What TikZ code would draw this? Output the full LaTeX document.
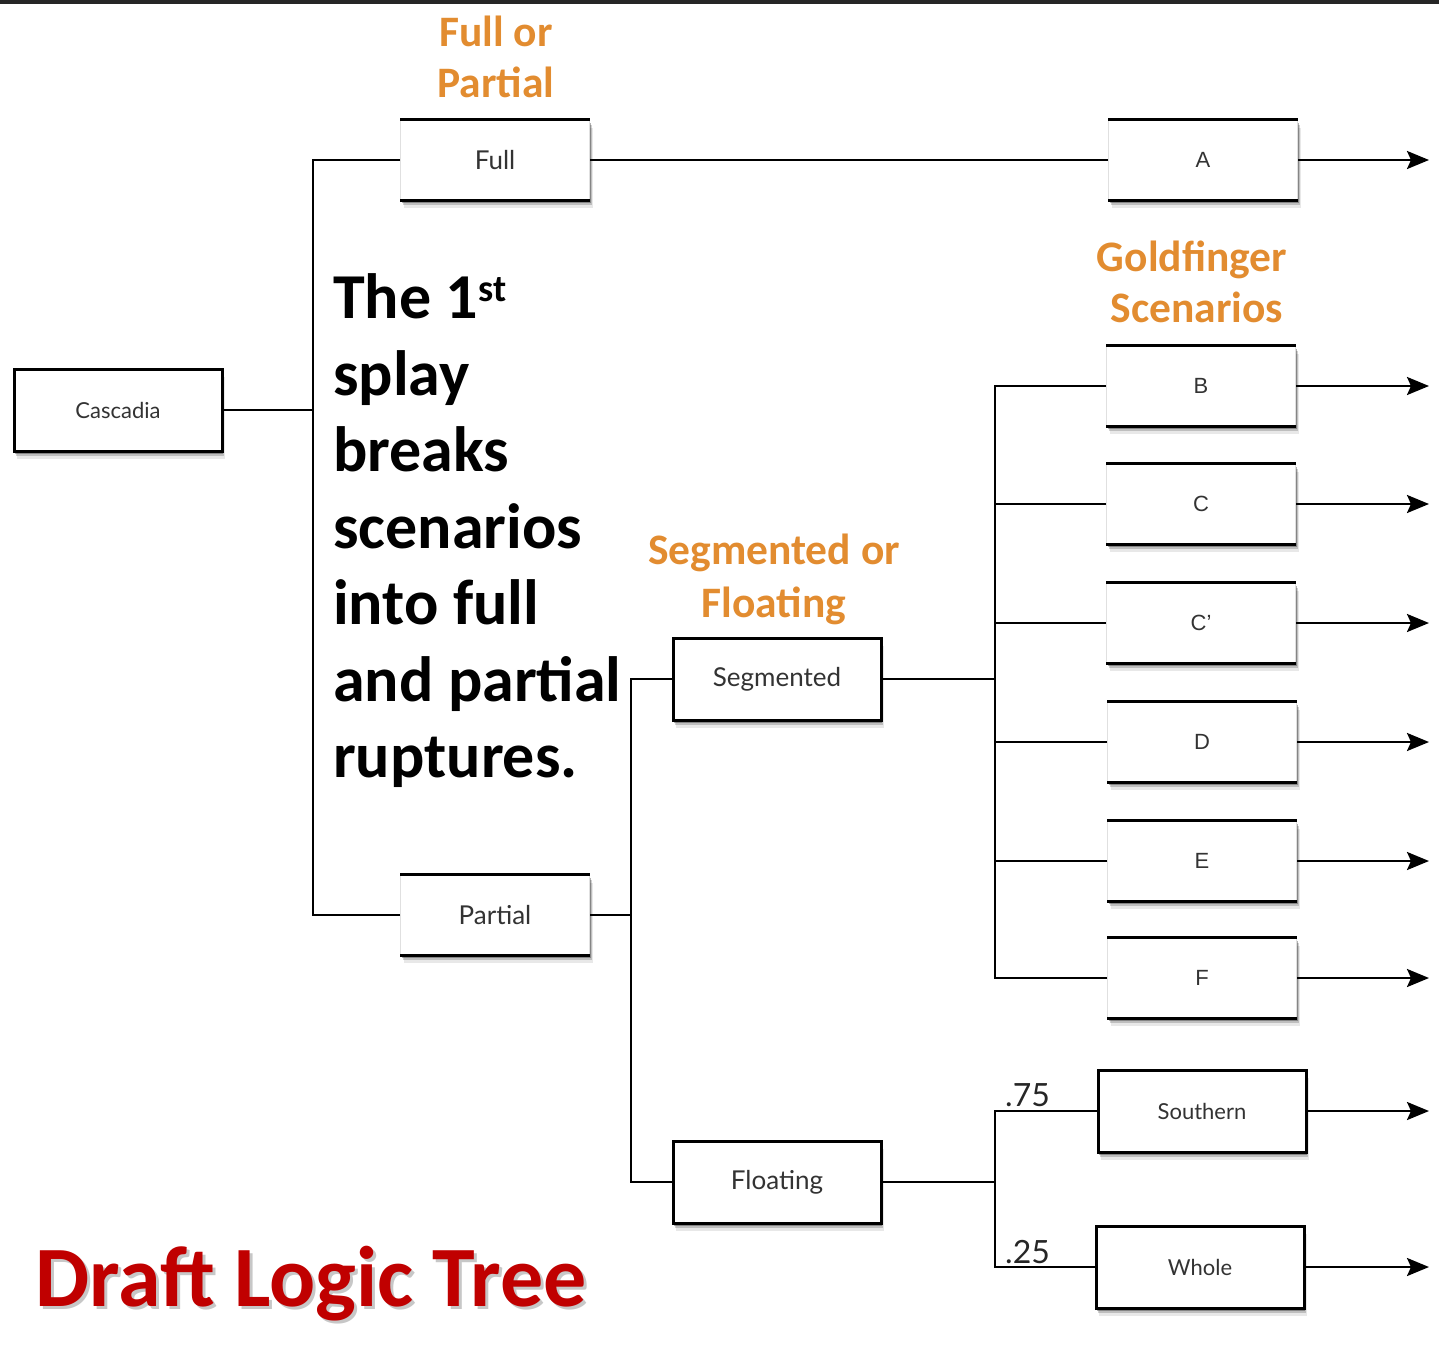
\documentclass[tikz,border=0pt]{standalone}
\usepackage{fontspec}
\setmainfont{Carlito}
\newfontfamily\boxfont{Lato}
\newfontfamily\letterfont{Liberation Sans}
\usetikzlibrary{arrows.meta,shadows}
\definecolor{headorange}{RGB}{226,140,48}
\definecolor{titlered}{RGB}{192,0,0}
\begin{document}
\begin{tikzpicture}[x=1pt,y=-1pt,
  boxshadow/.style={
    drop shadow={shadow xshift=1pt,shadow yshift=-3pt,fill=black,opacity=0.3},
    drop shadow={shadow xshift=2pt,shadow yshift=-5pt,fill=black,opacity=0.18},
    drop shadow={shadow xshift=3pt,shadow yshift=-8pt,fill=black,opacity=0.09}},
  closedbox/.style={draw=black,line width=3pt,fill=white,minimum width=208pt,minimum height=82pt,
    inner sep=0pt,boxshadow,font=\boxfont\fontsize{22}{26}\selectfont,text=black!80},
  openbox/.style={draw=black!12,line width=1pt,fill=white,minimum width=189pt,minimum height=80pt,
    inner sep=0pt,boxshadow,font=\boxfont\fontsize{22}{26}\selectfont,text=black!80},
  letterbox/.style={openbox,font=\letterfont\fontsize{22}{26}\selectfont},
  biglabel/.style={font=\boxfont\fontsize{26}{30}\selectfont},
  rim/.style={line width=3pt},
  conn/.style={line width=2.5pt,line join=miter},
  arr/.style={conn,-{Stealth[length=22pt,width=18pt,inset=4pt]}},
  head/.style={font=\bfseries\fontsize{43.5}{49}\selectfont,text=headorange,align=center,inner sep=0pt},
  body/.style={font=\bfseries\fontsize{64}{77}\selectfont,anchor=base west,inner sep=0pt},
  prob/.style={font=\boxfont\fontsize{32}{36}\selectfont,anchor=base west,inner sep=0pt,text=black!85}]
\useasboundingbox (0,0) rectangle (1439,1347);
\fill[black!85] (0,0) rectangle (1439,4);

% boxes
\node[closedbox] (casc) at (118,410) {Cascadia};
\node[openbox,biglabel] (full) at (495,160) {Full};
\node[openbox,biglabel] (partial) at (495,915) {Partial};
\node[closedbox,biglabel] (seg) at (777,679) {Segmented};
\node[closedbox,biglabel] (float) at (777,1182) {Floating};
\node[letterbox] (A) at (1203,160) {A};
\node[letterbox] (B) at (1201,386) {B};
\node[letterbox] (C) at (1201,504) {C};
\node[letterbox] (Cp) at (1201,623) {C’};
\node[letterbox] (D) at (1202,742) {D};
\node[letterbox] (E) at (1202,861) {E};
\node[letterbox] (F) at (1202,978) {F};
\node[closedbox] (south) at (1202,1111) {Southern};
\node[closedbox] (whole) at (1200,1267) {Whole};

\foreach \n in {full,partial,A,B,C,Cp,D,E,F}
  \draw[rim] (\n.north west) -- (\n.north east) (\n.south west) -- (\n.south east);

% branch points
\coordinate (j1) at (313,410);
\coordinate (j2) at (631,915);
\coordinate (j3) at (995,679);
\coordinate (j4) at (995,1182);
\coordinate (tip) at (1429,0);

\draw[conn] (casc.east) -- (j1);
\draw[conn] (full.west) -| (j1);
\draw[conn] (partial.west) -| (j1);
\draw[conn] (full.east) -- (A.west);
\draw[conn] (partial.east) -- (j2);
\draw[conn] (seg.west) -| (j2);
\draw[conn] (float.west) -| (j2);
\draw[conn] (seg.east) -- (j3);
\foreach \n in {B,C,Cp,D,E,F}
  \draw[conn] (\n.west) -| (j3);
\draw[conn] (float.east) -- (j4);
\draw[conn] (south.west) -| (j4);
\draw[conn] (whole.west) -| (j4);
\foreach \n in {A,B,C,Cp,D,E,F,south,whole}
  \draw[arr] (\n.east) -- (\n.east -| tip);

% probabilities
\node[prob] (p75) at (1005,1106) {.75};
\node[prob] (p25) at (1005,1263) {.25};

% headings
\node[head,anchor=base] (h1a) at (496,46) {Full or};
\node[head,anchor=base] (h1b) at (496,97) {Partial};
\node[head,anchor=base] (h2a) at (1192,271) {Goldfinger};
\node[head,anchor=base] (h2b) at (1197,322) {Scenarios};
\node[head,anchor=base] (h3a) at (774,564) {Segmented or};
\node[head,anchor=base] (h3b) at (774,617) {Floating};

% note
\node[body] (t1) at (333,318) {The 1\raisebox{17pt}{\fontsize{38}{38}\selectfont st}};
\node[body] (t2) at (333,395) {splay};
\node[body] (t3) at (333,471) {breaks};
\node[body] (t4) at (333,548) {scenarios};
\node[body] (t5) at (333,624) {into full};
\node[body] (t6) at (333,701) {and partial};
\node[body] (t7) at (333,777) {ruptures.};

% title, with a soft grey copy set behind it
\node[font=\bfseries\fontsize{86}{90}\selectfont,anchor=base west,inner sep=0pt,text=titlered]
  (title) at (35,1306)
  {\makebox[0pt][l]{\hspace{3pt}\raisebox{-3pt}{\color{black!22}Draft Logic Tree}}Draft Logic Tree};
\end{tikzpicture}
\end{document}
